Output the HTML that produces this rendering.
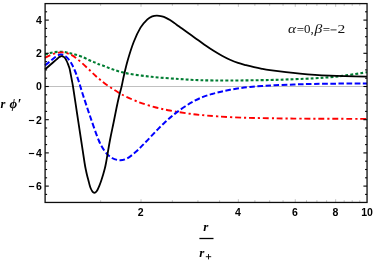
<!DOCTYPE html>
<html><head><meta charset="utf-8"><style>
html,body{margin:0;padding:0;background:#fff;}
svg{display:block;font-family:"Liberation Sans",sans-serif;will-change:transform;}
</style></head><body>
<svg width="374" height="261" viewBox="0 0 374 261">
<rect width="374" height="261" fill="#fff"/>
<line x1="45.1" y1="86.50" x2="367.05" y2="86.50" stroke="#b0b0b0" stroke-width="0.8"/>
<g fill="none" stroke-linecap="butt" stroke-linejoin="round">
<path d="M45.00 54.60 C45.83 54.35 48.33 53.52 50.00 53.10 C51.67 52.68 53.20 52.33 55.00 52.10 C56.80 51.87 58.97 51.67 60.80 51.70 C62.63 51.73 64.47 52.05 66.00 52.30 C67.53 52.55 68.50 52.83 70.00 53.20 C71.50 53.57 73.00 53.92 75.00 54.50 C77.00 55.08 79.50 55.70 82.00 56.70 C84.50 57.70 87.67 59.45 90.00 60.50 C92.33 61.55 94.05 62.22 96.00 63.00 C97.95 63.78 97.07 63.58 101.70 65.20 C106.33 66.82 115.48 70.77 123.80 72.70 C132.12 74.63 142.35 75.75 151.60 76.80 C160.85 77.85 171.23 78.43 179.30 79.00 C187.37 79.57 191.55 79.95 200.00 80.20 C208.45 80.45 218.33 80.53 230.00 80.50 C241.67 80.47 259.33 80.22 270.00 80.00 C280.67 79.78 286.67 79.48 294.00 79.20 C301.33 78.92 308.00 78.63 314.00 78.30 C320.00 77.97 324.67 77.68 330.00 77.20 C335.33 76.72 339.83 76.22 346.00 75.40 C352.17 74.58 363.50 72.82 367.00 72.30" stroke="#007d32" stroke-width="2.1" stroke-dasharray="2.9 2.1"/>
<path d="M45.00 57.80 C45.83 57.38 48.33 56.03 50.00 55.30 C51.67 54.57 53.50 53.85 55.00 53.40 C56.50 52.95 57.88 52.77 59.00 52.60 C60.12 52.43 60.70 52.37 61.70 52.40 C62.70 52.43 63.62 52.48 65.00 52.80 C66.38 53.12 68.33 53.57 70.00 54.30 C71.67 55.03 73.00 55.75 75.00 57.20 C77.00 58.65 79.50 60.78 82.00 63.00 C84.50 65.22 87.67 68.30 90.00 70.50 C92.33 72.70 94.05 74.45 96.00 76.20 C97.95 77.95 99.53 79.28 101.70 81.00 C103.87 82.72 106.28 84.63 109.00 86.50 C111.72 88.37 115.17 90.52 118.00 92.20 C120.83 93.88 122.33 94.87 126.00 96.60 C129.67 98.33 135.00 100.78 140.00 102.60 C145.00 104.42 151.33 106.23 156.00 107.50 C160.67 108.77 164.12 109.42 168.00 110.20 C171.88 110.98 175.63 111.60 179.30 112.20 C182.97 112.80 186.55 113.35 190.00 113.80 C193.45 114.25 195.37 114.47 200.00 114.90 C204.63 115.33 210.20 115.92 217.80 116.40 C225.40 116.88 236.90 117.50 245.60 117.80 C254.30 118.10 261.93 118.07 270.00 118.20 C278.07 118.33 277.83 118.48 294.00 118.60 C310.17 118.72 354.83 118.85 367.00 118.90" stroke="#ff0000" stroke-width="1.9" stroke-dasharray="5.9 3 2.2 2.8"/>
<path d="M45.00 65.40 C45.83 64.73 48.33 62.75 50.00 61.40 C51.67 60.05 53.58 58.35 55.00 57.30 C56.42 56.25 57.47 55.57 58.50 55.10 C59.53 54.63 60.03 54.32 61.20 54.50 C62.37 54.68 63.93 54.95 65.50 56.20 C67.07 57.45 69.08 59.70 70.60 62.00 C72.12 64.30 73.32 67.00 74.60 70.00 C75.88 73.00 76.90 75.83 78.30 80.00 C79.70 84.17 81.05 89.00 83.00 95.00 C84.95 101.00 87.40 108.50 90.00 116.00 C92.60 123.50 96.10 134.08 98.60 140.00 C101.10 145.92 102.77 148.50 105.00 151.50 C107.23 154.50 109.53 156.55 112.00 158.00 C114.47 159.45 117.30 160.12 119.80 160.20 C122.30 160.28 124.47 159.77 127.00 158.50 C129.53 157.23 132.67 154.53 135.00 152.60 C137.33 150.67 139.17 148.70 141.00 146.90 C142.83 145.10 144.17 143.72 146.00 141.80 C147.83 139.88 150.00 137.52 152.00 135.40 C154.00 133.28 156.00 131.13 158.00 129.10 C160.00 127.07 162.00 125.08 164.00 123.20 C166.00 121.32 168.00 119.52 170.00 117.80 C172.00 116.08 173.50 114.78 176.00 112.90 C178.50 111.02 182.00 108.47 185.00 106.50 C188.00 104.53 191.00 102.70 194.00 101.10 C197.00 99.50 200.00 98.08 203.00 96.90 C206.00 95.72 209.00 94.87 212.00 94.00 C215.00 93.13 218.00 92.40 221.00 91.70 C224.00 91.00 226.83 90.38 230.00 89.80 C233.17 89.22 236.67 88.67 240.00 88.20 C243.33 87.73 246.33 87.37 250.00 87.00 C253.67 86.63 257.83 86.28 262.00 86.00 C266.17 85.72 269.67 85.55 275.00 85.30 C280.33 85.05 287.50 84.73 294.00 84.50 C300.50 84.27 306.33 84.05 314.00 83.90 C321.67 83.75 331.17 83.65 340.00 83.60 C348.83 83.55 362.50 83.60 367.00 83.60" stroke="#0000ff" stroke-width="2" stroke-dasharray="5.6 2.5"/>
<path d="M45.00 69.50 C45.67 68.92 47.67 67.17 49.00 66.00 C50.33 64.83 51.83 63.52 53.00 62.50 C54.17 61.48 55.25 60.55 56.00 59.90 C56.75 59.25 57.00 59.03 57.50 58.60 C58.00 58.17 58.55 57.63 59.00 57.30 C59.45 56.97 59.80 56.78 60.20 56.60 C60.60 56.42 61.00 56.25 61.40 56.20 C61.80 56.15 62.20 56.18 62.60 56.30 C63.00 56.42 63.42 56.62 63.80 56.90 C64.18 57.18 64.55 57.57 64.90 58.00 C65.25 58.43 65.57 58.92 65.90 59.50 C66.23 60.08 66.57 60.77 66.90 61.50 C67.23 62.23 67.58 63.08 67.90 63.90 C68.22 64.72 68.50 65.55 68.80 66.40 C69.10 67.25 69.20 66.73 69.70 69.00 C70.20 71.27 71.25 77.08 71.80 80.00 C72.35 82.92 72.13 81.00 73.00 86.50 C73.87 92.00 75.65 104.08 77.00 113.00 C78.35 121.92 79.83 131.67 81.10 140.00 C82.37 148.33 83.80 158.00 84.60 163.00 C85.40 168.00 85.50 168.00 85.90 170.00 C86.30 172.00 86.57 173.22 87.00 175.00 C87.43 176.78 88.02 178.85 88.50 180.70 C88.98 182.55 89.48 184.72 89.90 186.10 C90.32 187.48 90.63 188.18 91.00 189.00 C91.37 189.82 91.73 190.45 92.10 191.00 C92.47 191.55 92.82 192.00 93.20 192.30 C93.58 192.60 94.00 192.80 94.40 192.80 C94.80 192.80 95.20 192.60 95.60 192.30 C96.00 192.00 96.42 191.55 96.80 191.00 C97.18 190.45 97.50 189.82 97.90 189.00 C98.30 188.18 98.65 187.48 99.20 186.10 C99.75 184.72 100.57 182.55 101.20 180.70 C101.83 178.85 102.47 176.78 103.00 175.00 C103.53 173.22 103.90 172.00 104.40 170.00 C104.90 168.00 105.07 168.00 106.00 163.00 C106.93 158.00 108.75 146.67 110.00 140.00 C111.25 133.33 112.42 128.33 113.50 123.00 C114.58 117.67 115.60 112.33 116.50 108.00 C117.40 103.67 118.05 100.58 118.90 97.00 C119.75 93.42 120.78 90.00 121.60 86.50 C122.42 83.00 122.77 80.42 123.80 76.00 C124.83 71.58 126.15 65.67 127.80 60.00 C129.45 54.33 131.58 47.40 133.70 42.00 C135.82 36.60 138.22 31.38 140.50 27.60 C142.78 23.82 145.43 21.18 147.40 19.30 C149.37 17.42 150.70 16.92 152.30 16.30 C153.90 15.68 155.38 15.58 157.00 15.60 C158.62 15.62 160.50 16.02 162.00 16.40 C163.50 16.78 164.67 17.28 166.00 17.90 C167.33 18.52 168.67 19.28 170.00 20.10 C171.33 20.92 172.67 21.87 174.00 22.80 C175.33 23.73 176.67 24.73 178.00 25.70 C179.33 26.67 180.00 27.17 182.00 28.60 C184.00 30.03 187.33 32.42 190.00 34.30 C192.67 36.18 195.33 38.00 198.00 39.90 C200.67 41.80 203.33 43.85 206.00 45.70 C208.67 47.55 211.33 49.33 214.00 51.00 C216.67 52.67 219.33 54.25 222.00 55.70 C224.67 57.15 227.33 58.50 230.00 59.70 C232.67 60.90 235.33 61.98 238.00 62.90 C240.67 63.82 243.33 64.48 246.00 65.20 C248.67 65.92 251.33 66.60 254.00 67.20 C256.67 67.80 259.33 68.32 262.00 68.80 C264.67 69.28 266.00 69.53 270.00 70.10 C274.00 70.67 281.00 71.60 286.00 72.20 C291.00 72.80 295.17 73.25 300.00 73.70 C304.83 74.15 310.00 74.57 315.00 74.90 C320.00 75.23 325.00 75.48 330.00 75.70 C335.00 75.92 338.83 76.03 345.00 76.20 C351.17 76.37 363.33 76.62 367.00 76.70" stroke="#000" stroke-width="1.8"/>
</g>
<g stroke="#000" stroke-width="1.1"><line x1="45.1" y1="194.40" x2="47.1" y2="194.40"/><line x1="367.1" y1="194.40" x2="365.1" y2="194.40"/><line x1="45.1" y1="186.10" x2="48.8" y2="186.10"/><line x1="367.1" y1="186.10" x2="363.4" y2="186.10"/><line x1="45.1" y1="177.80" x2="47.1" y2="177.80"/><line x1="367.1" y1="177.80" x2="365.1" y2="177.80"/><line x1="45.1" y1="169.50" x2="47.1" y2="169.50"/><line x1="367.1" y1="169.50" x2="365.1" y2="169.50"/><line x1="45.1" y1="161.20" x2="47.1" y2="161.20"/><line x1="367.1" y1="161.20" x2="365.1" y2="161.20"/><line x1="45.1" y1="152.90" x2="48.8" y2="152.90"/><line x1="367.1" y1="152.90" x2="363.4" y2="152.90"/><line x1="45.1" y1="144.60" x2="47.1" y2="144.60"/><line x1="367.1" y1="144.60" x2="365.1" y2="144.60"/><line x1="45.1" y1="136.30" x2="47.1" y2="136.30"/><line x1="367.1" y1="136.30" x2="365.1" y2="136.30"/><line x1="45.1" y1="128.00" x2="47.1" y2="128.00"/><line x1="367.1" y1="128.00" x2="365.1" y2="128.00"/><line x1="45.1" y1="119.70" x2="48.8" y2="119.70"/><line x1="367.1" y1="119.70" x2="363.4" y2="119.70"/><line x1="45.1" y1="111.40" x2="47.1" y2="111.40"/><line x1="367.1" y1="111.40" x2="365.1" y2="111.40"/><line x1="45.1" y1="103.10" x2="47.1" y2="103.10"/><line x1="367.1" y1="103.10" x2="365.1" y2="103.10"/><line x1="45.1" y1="94.80" x2="47.1" y2="94.80"/><line x1="367.1" y1="94.80" x2="365.1" y2="94.80"/><line x1="45.1" y1="86.50" x2="48.8" y2="86.50"/><line x1="367.1" y1="86.50" x2="363.4" y2="86.50"/><line x1="45.1" y1="78.20" x2="47.1" y2="78.20"/><line x1="367.1" y1="78.20" x2="365.1" y2="78.20"/><line x1="45.1" y1="69.90" x2="47.1" y2="69.90"/><line x1="367.1" y1="69.90" x2="365.1" y2="69.90"/><line x1="45.1" y1="61.60" x2="47.1" y2="61.60"/><line x1="367.1" y1="61.60" x2="365.1" y2="61.60"/><line x1="45.1" y1="53.30" x2="48.8" y2="53.30"/><line x1="367.1" y1="53.30" x2="363.4" y2="53.30"/><line x1="45.1" y1="45.00" x2="47.1" y2="45.00"/><line x1="367.1" y1="45.00" x2="365.1" y2="45.00"/><line x1="45.1" y1="36.70" x2="47.1" y2="36.70"/><line x1="367.1" y1="36.70" x2="365.1" y2="36.70"/><line x1="45.1" y1="28.40" x2="47.1" y2="28.40"/><line x1="367.1" y1="28.40" x2="365.1" y2="28.40"/><line x1="45.1" y1="20.10" x2="48.8" y2="20.10"/><line x1="367.1" y1="20.10" x2="363.4" y2="20.10"/><line x1="45.1" y1="11.80" x2="47.1" y2="11.80"/><line x1="367.1" y1="11.80" x2="365.1" y2="11.80"/></g>
<g stroke="#888" stroke-width="0.5"><line x1="100.63" y1="202.4" x2="100.63" y2="200.2"/><line x1="100.63" y1="3.6" x2="100.63" y2="5.8"/><line x1="141.02" y1="202.4" x2="141.02" y2="199.2"/><line x1="141.02" y1="3.6" x2="141.02" y2="6.8"/><line x1="172.35" y1="202.4" x2="172.35" y2="200.2"/><line x1="172.35" y1="3.6" x2="172.35" y2="5.8"/><line x1="197.95" y1="202.4" x2="197.95" y2="200.2"/><line x1="197.95" y1="3.6" x2="197.95" y2="5.8"/><line x1="219.60" y1="202.4" x2="219.60" y2="200.2"/><line x1="219.60" y1="3.6" x2="219.60" y2="5.8"/><line x1="238.35" y1="202.4" x2="238.35" y2="199.2"/><line x1="238.35" y1="3.6" x2="238.35" y2="6.8"/><line x1="254.88" y1="202.4" x2="254.88" y2="200.2"/><line x1="254.88" y1="3.6" x2="254.88" y2="5.8"/><line x1="269.68" y1="202.4" x2="269.68" y2="200.2"/><line x1="269.68" y1="3.6" x2="269.68" y2="5.8"/><line x1="283.06" y1="202.4" x2="283.06" y2="200.2"/><line x1="283.06" y1="3.6" x2="283.06" y2="5.8"/><line x1="295.28" y1="202.4" x2="295.28" y2="199.2"/><line x1="295.28" y1="3.6" x2="295.28" y2="6.8"/><line x1="306.51" y1="202.4" x2="306.51" y2="200.2"/><line x1="306.51" y1="3.6" x2="306.51" y2="5.8"/><line x1="316.92" y1="202.4" x2="316.92" y2="200.2"/><line x1="316.92" y1="3.6" x2="316.92" y2="5.8"/><line x1="326.61" y1="202.4" x2="326.61" y2="200.2"/><line x1="326.61" y1="3.6" x2="326.61" y2="5.8"/><line x1="335.67" y1="202.4" x2="335.67" y2="199.2"/><line x1="335.67" y1="3.6" x2="335.67" y2="6.8"/><line x1="344.18" y1="202.4" x2="344.18" y2="200.2"/><line x1="344.18" y1="3.6" x2="344.18" y2="5.8"/><line x1="352.21" y1="202.4" x2="352.21" y2="200.2"/><line x1="352.21" y1="3.6" x2="352.21" y2="5.8"/><line x1="359.80" y1="202.4" x2="359.80" y2="200.2"/><line x1="359.80" y1="3.6" x2="359.80" y2="5.8"/></g>
<rect x="45.1" y="3.6" width="321.95" height="198.85" fill="none" stroke="#0d0d0d" stroke-width="1.3"/>
<g font-size="10.5px" font-weight="bold" fill="#000"><text x="41.9" y="24.0" text-anchor="end">4</text><text x="41.9" y="57.2" text-anchor="end">2</text><text x="41.9" y="90.4" text-anchor="end">0</text><text x="41.9" y="123.6" text-anchor="end">2</text><text x="34.5" y="123.6" text-anchor="end">−</text><text x="41.9" y="156.8" text-anchor="end">4</text><text x="34.5" y="156.8" text-anchor="end">−</text><text x="41.9" y="190.0" text-anchor="end">6</text><text x="34.5" y="190.0" text-anchor="end">−</text><text x="140.7" y="216.2" text-anchor="middle">2</text><text x="238.0" y="216.2" text-anchor="middle">4</text><text x="295.0" y="216.2" text-anchor="middle">6</text><text x="335.4" y="216.2" text-anchor="middle">8</text><text x="367.1" y="216.2" text-anchor="middle">10</text></g>
<g font-family="Liberation Serif, serif" font-weight="bold" font-style="italic" fill="#000">
<text x="0.5" y="107.8" font-size="12.5px">r</text>
<text x="9.4" y="108" font-size="13.2px">ϕ</text>
<text x="17.5" y="108.5" font-size="14px">′</text>
<text x="203.2" y="231.3" font-size="13px">r</text>
<text x="199.2" y="256.9" font-size="13px">r</text>
</g>
<path d="M205.8 256.7H211.2M208.5 254V259.4" stroke="#000" stroke-width="0.9" fill="none"/>
<line x1="199.4" y1="238.5" x2="213.5" y2="238.5" stroke="#000" stroke-width="1.3"/>
<g font-family="Liberation Serif, serif" fill="#111">
<text transform="translate(288.04,33.3) scale(1.18,1)" font-size="13px" font-style="italic">α</text>
<text transform="translate(296.65,33.6) scale(1.09,1)" font-size="12px">=</text>
<text transform="translate(304.1,33.3) scale(1.08,1)" font-size="12px">0</text>
<text transform="translate(310.4,33.3) scale(1.08,1)" font-size="12px">,</text>
<text transform="translate(314.45,33.3) scale(1.27,1)" font-size="12.3px" font-style="italic">β</text>
<text transform="translate(322.65,33.6) scale(1.09,1)" font-size="12px">=</text>
<line x1="330.5" y1="29.9" x2="336.6" y2="29.9" stroke="#111" stroke-width="0.85"/>
<text transform="translate(337.5,33.3) scale(1.3,1)" font-size="12px">2</text>
</g>
</svg>
</body></html>
